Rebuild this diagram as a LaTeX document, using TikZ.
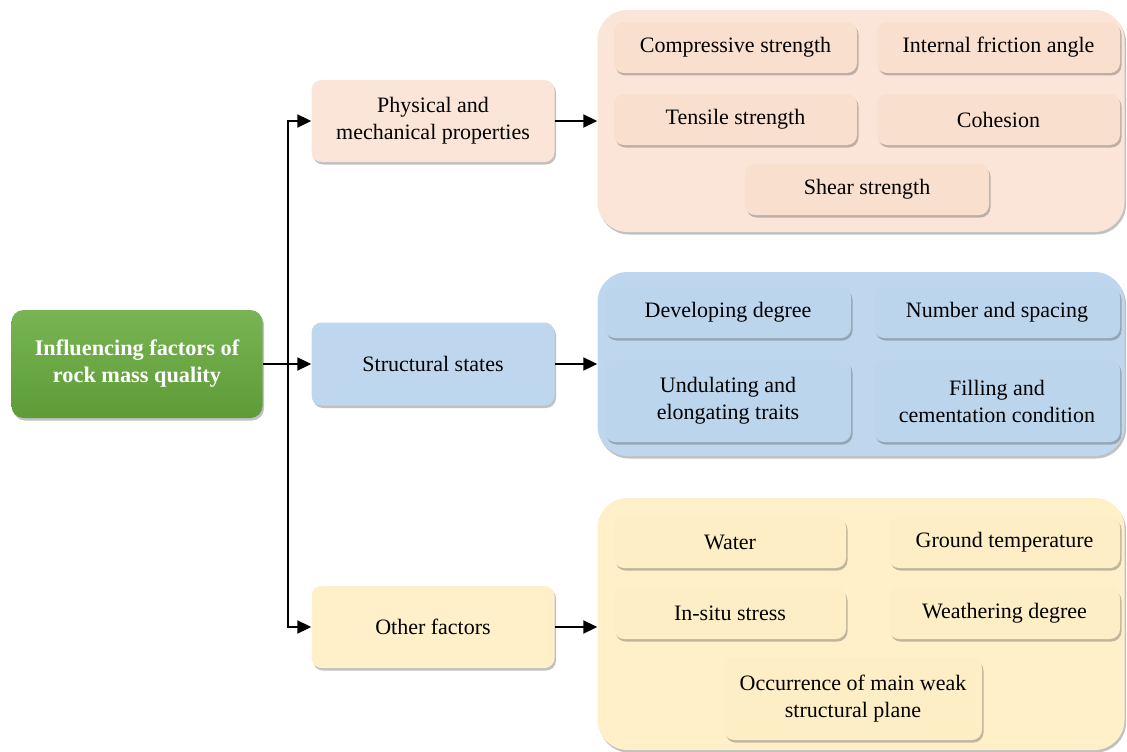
\documentclass[tikz,border=0pt]{standalone}
\usepackage{fontspec}
\setmainfont{Liberation Serif}
\usetikzlibrary{shadows,arrows.meta,positioning}
\definecolor{pinkC}{HTML}{FAE5D8}
\definecolor{pinkB}{HTML}{F9DFCE}
\definecolor{blueC}{HTML}{BFD7EE}
\definecolor{blueB}{HTML}{BBD5ED}
\definecolor{yelC}{HTML}{FFF0CA}
\definecolor{yelB}{HTML}{FEEEC6}
\definecolor{grnT}{HTML}{78B453}
\definecolor{grnB}{HTML}{5E9C38}
\tikzset{
  shad/.style={drop shadow={shadow xshift=1.5pt,shadow yshift=-2.5pt,opacity=0.35,fill=black!70}},
  container/.style={rounded corners=30pt,shad,inner sep=0pt},
  item/.style={rounded corners=10pt,shad,align=center,inner sep=0pt,font=\fontsize{22}{27}\selectfont},
  mid/.style={item,minimum width=243pt},
  arr/.style={line width=2pt,-{Triangle[length=14pt,width=13pt]}},
}
\begin{document}
\begin{tikzpicture}[x=1pt,y=-1pt]
\useasboundingbox (0,0) rectangle (1127,752);
% containers
\node[container,fill=pinkC,minimum width=527pt,minimum height=222pt] (pinkbox) at (861,121) {};
\node[container,fill=blueC,minimum width=527pt,minimum height=184pt] (bluebox) at (861,364) {};
\node[container,fill=yelC,minimum width=527pt,minimum height=252pt] (yelbox) at (861,624) {};
% root
\node[rounded corners=12pt,shad,top color=grnT,bottom color=grnB,minimum width=251pt,minimum height=108pt,align=center,text=white,font=\bfseries\fontsize{22.3}{27}\selectfont] (root) at (137,364) {Influencing factors of\\rock mass quality};
% middle
\node[mid,fill=pinkC,minimum height=82pt] (phys) at (433,121) {Physical and\\mechanical properties};
\node[mid,fill=blueC,minimum height=83pt] (struct) at (433,364) {Structural states};
\node[mid,fill=yelC,minimum height=82pt] (other) at (433,627) {Other factors};
% pink items
\node[item,fill=pinkB,minimum width=243pt,minimum height=51pt] (comp) at (735.5,47.5) {Compressive strength};
\node[item,fill=pinkB,minimum width=243pt,minimum height=51pt] (fric) at (998.5,47.5) {Internal friction angle};
\node[item,fill=pinkB,minimum width=243pt,minimum height=51pt] (tens) at (735.5,119.5) {Tensile strength};
\node[item,fill=pinkB,minimum width=243pt,minimum height=51pt] (coh) at (998.5,119.5) {Cohesion};
\node[item,fill=pinkB,minimum width=244pt,minimum height=51pt] (shear) at (867,189.5) {Shear strength};
% blue items
\node[item,fill=blueB,minimum width=246pt,minimum height=51pt] (dev) at (728,312.5) {Developing degree};
\node[item,fill=blueB,minimum width=246pt,minimum height=51pt] (num) at (997,312.5) {Number and spacing};
\node[item,fill=blueB,minimum width=246pt,minimum height=82pt] (und) at (728,401) {Undulating and\\elongating traits};
\node[item,fill=blueB,minimum width=246pt,minimum height=82pt] (fill) at (997,401) {Filling and\\cementation condition};
% yellow items
\node[item,fill=yelB,minimum width=232pt,minimum height=51pt] (water) at (730,542.5) {Water};
\node[item,fill=yelB,minimum width=231pt,minimum height=51pt] (ground) at (1004.5,542.5) {Ground temperature};
\node[item,fill=yelB,minimum width=232pt,minimum height=51pt] (insitu) at (730,613.5) {In-situ stress};
\node[item,fill=yelB,minimum width=231pt,minimum height=51pt] (weath) at (1004.5,613.5) {Weathering degree};
\node[item,fill=yelB,minimum width=258pt,minimum height=82pt] (occ) at (853,699) {Occurrence of main weak\\structural plane};
% connectors
\coordinate (split) at (288,364);
\draw[arr] (root.east) -- (struct.west);
\draw[arr] (split) |- (phys.west);
\draw[arr] (split) |- (other.west);
\draw[arr] (phys.east) -- (phys.east -| pinkbox.west);
\draw[arr] (struct.east) -- (struct.east -| bluebox.west);
\draw[arr] (other.east) -- (other.east -| yelbox.west);
\end{tikzpicture}
\end{document}
